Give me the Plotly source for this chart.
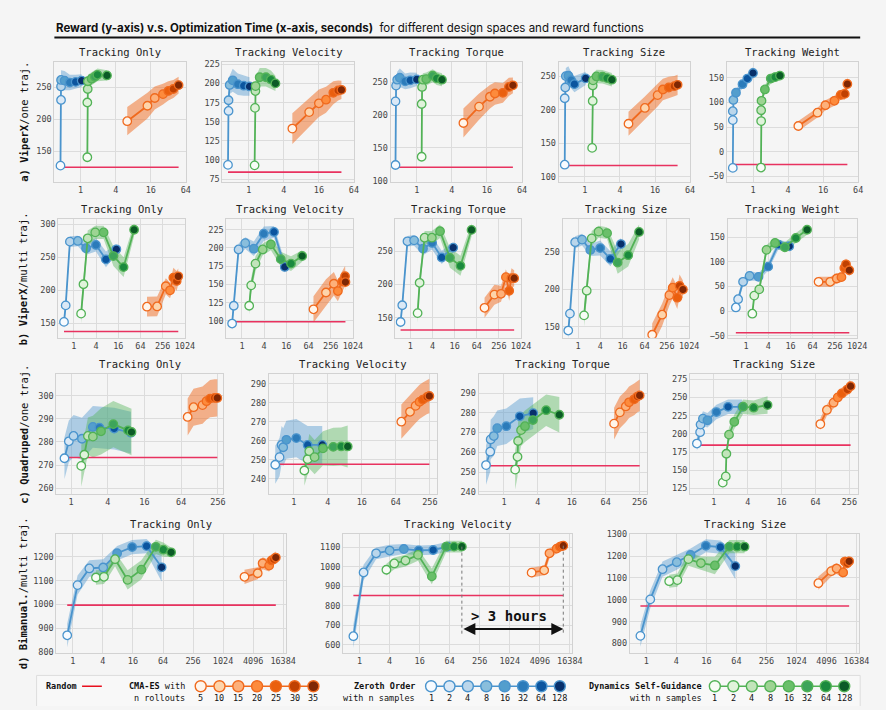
import math
import plotly.graph_objects as go

W, H = 886, 710
BG = "#f5f5f5"
MONO = "DejaVu Sans Mono"
LOG2 = math.log10(2)

# ---------------- data ----------------
ROW_LABELS = [("a) ViperX", "/one traj."), ("b) ViperX", "/multi traj."),
              ("c) Quadruped", "/one traj."), ("d) Bimanual.", "/multi traj.")]
TITLES = [
    ["Tracking Only", "Tracking Velocity", "Tracking Torque", "Tracking Size", "Tracking Weight"],
    ["Tracking Only", "Tracking Velocity", "Tracking Torque", "Tracking Size", "Tracking Weight"],
    ["Tracking Only", "Tracking Velocity", "Tracking Torque", "Tracking Size"],
    ["Tracking Only", "Tracking Velocity", "Tracking Size"],
]
XTICKS = [[1, 4, 16, 64], [1, 4, 16, 64, 256, 1024], [1, 4, 16, 64, 256],
          [1, 4, 16, 64, 256, 1024, 4096, 16384]]
YTICKS = [
    [[150, 200, 250], [75, 100, 125, 150, 175, 200, 225], [100, 150, 200, 250],
     [100, 150, 200, 250], [-50, 0, 50, 100, 150]],
    [[150, 200, 250, 300], [100, 125, 150, 175, 200, 225], [150, 200, 250],
     [150, 200, 250], [-50, 0, 50, 100, 150]],
    [[260, 270, 280, 290, 300], [240, 250, 260, 270, 280, 290], [240, 250, 260, 270, 280, 290],
     [125, 150, 175, 200, 225, 250, 275]],
    [[800, 900, 1000, 1100, 1200], [600, 700, 800, 900, 1000, 1100],
     [800, 900, 1000, 1100, 1200, 1300]],
]

# random baseline reward per panel
RANDOM = [[125.5, 84.1, 120.5, 116.7, -26], [137.5, 99, 131.7, 125.2, -44],
          [273.3, 247.7, 253.2, 184.5], [997, 852.5, 971.4]]

# Zeroth Order (n samples 1..128): time (s), reward, band half-width
A_ZO_X = [[0.45, 0.46, 0.46, 0.46, 0.53, 0.65, 0.82, 1.04],
          [0.44, 0.45, 0.45, 0.47, 0.53, 0.65, 0.82, 1.03],
          [0.43, 0.43, 0.44, 0.46, 0.51, 0.63, 0.77, 1.0],
          [0.45, 0.45, 0.46, 0.47, 0.52, 0.58, 0.66, 1.03],
          [0.45, 0.45, 0.45, 0.46, 0.51, 0.66, 0.8, 1.0]]
A_ZO_Y = [[128, 230, 251, 261, 260, 257, 258, 260],
          [93.6, 164, 178, 198, 204, 199, 197, 196],
          [124, 221, 245, 254, 257, 251.5, 253, 254.5],
          [118, 217, 233, 250, 250.5, 244, 238, 246.6],
          [-32.7, 64, 82, 104.7, 119.3, 136.7, 148, 159.3]]
A_ZO_E = [[15, 10, 10, 15, 15, 12, 11, 10], [8, 10, 10, 12, 15, 14, 13, 12],
          [10, 10, 10, 12, 14, 12, 12, 10], [15, 10, 10, 12, 14, 12, 12, 10],
          [15, 8, 8, 8, 8, 9, 10, 12]]
B_ZO_X = [[0.54, 0.6, 0.78, 1.28, 2.14, 3.97, 7.4, 14.2],
          [0.54, 0.6, 0.81, 1.23, 2.1, 3.9, 7.4, 14.5],
          [0.54, 0.6, 0.83, 1.26, 2.2, 3.9, 7.1, 14.6],
          [0.54, 0.6, 0.83, 1.28, 2.14, 3.97, 7.5, 14.5],
          [0.53, 0.61, 0.83, 1.25, 2.18, 3.97, 7.5, 14.8]]
B_ZO_Y = [[152, 177, 273.6, 274.6, 263.6, 268.6, 246.7, 262],
          [96.4, 120.8, 198, 206.7, 199, 219.6, 222, 174],
          [143.6, 168.8, 264.9, 266.3, 254, 262.4, 240.6, 255.4],
          [144.6, 167.3, 262.9, 266.3, 252.5, 255, 240.6, 260.4],
          [7.3, 24, 59.3, 71.3, 69.3, 90, 134.7, 131.3]]
B_ZO_E = [[10, 8, 8, 8, 10, 10, 12, 8], [10, 8, 8, 8, 10, 10, 8, 8],
          [10, 8, 8, 8, 10, 10, 10, 8], [12, 8, 8, 8, 8, 10, 10, 8],
          [8, 8, 8, 10, 8, 8, 10, 8]]
C_ZO_X = [[0.78, 0.92, 1.1, 1.51, 2.28, 2.92, 5.1, 9.6],
          [0.47, 0.56, 0.61, 0.65, 0.74, 1.11, 1.76, 3.19],
          [0.48, 0.57, 0.58, 0.66, 0.76, 1.1, 1.91, 3.3],
          [0.5, 0.57, 0.58, 0.64, 0.77, 1.11, 1.79, 3.19]]
C_ZO_Y = [[273, 280.3, 282.6, 281.4, 286.5, 286.2, 285.8, 284],
          [247.4, 251.4, 257.8, 256.6, 260.5, 261.4, 257.8, 257.8],
          [253.5, 260.3, 266.5, 268.2, 272.2, 273.2, 278.2, 279.8],
          [186.7, 202.3, 212.7, 220.9, 218.6, 229.9, 237.1, 237.1]]
C_ZO_E = [[9, 9, 9, 9, 9, 9, 9, 9], [10, 10, 10, 10, 10, 10, 10, 10],
          [10, 10, 10, 10, 9, 9, 9, 8], [10, 10, 10, 10, 10, 10, 10, 10]]
D_ZO_X = [[0.77, 1.24, 2.14, 4.05, 7.7, 15.4, 30, 60],
          [0.75, 1.2, 2.14, 4.0, 7.7, 15.3, 29.8, 59],
          [0.76, 1.2, 2.11, 4.08, 7.7, 15.6, 30.5, 60.7]]
D_ZO_Y = [[870, 1081, 1151, 1155, 1215, 1241, 1245, 1156],
          [644, 970, 1068, 1082, 1090, 1083, 1085, 1102],
          [835, 1002, 1140, 1172, 1205, 1247, 1241, 1154]]
D_ZO_E = [[50, 40, 35, 35, 30, 30, 30, 60], [60, 40, 30, 30, 25, 25, 25, 25],
          [50, 40, 35, 35, 30, 30, 30, 60]]

# Dynamics Self-Guidance (n samples 1..128)
A_DSG_X = [[1.3, 1.3, 1.32, 1.33, 1.54, 1.75, 1.94, 2.83],
           [1.26, 1.28, 1.3, 1.31, 1.54, 1.97, 2.4, 2.87],
           [1.21, 1.21, 1.23, 1.27, 1.45, 1.87, 2.2, 2.7],
           [1.33, 1.36, 1.36, 1.38, 1.58, 2.0, 2.4, 2.9],
           [1.37, 1.38, 1.38, 1.4, 1.6, 2.02, 2.4, 2.9]]
A_DSG_Y = [[141, 226, 247, 259, 263, 266, 269, 268],
           [93, 168, 190, 196.5, 208, 208, 205, 200],
           [136.6, 217, 243, 254, 255, 260, 256, 254],
           [143, 213, 236, 243.6, 249.5, 249, 247, 244.6],
           [-32, 62, 84, 103, 126, 148, 151, 154]]
A_DSG_E = [[8, 10, 10, 10, 10, 10, 10, 8], [6, 10, 10, 12, 12, 12, 12, 10],
           [12, 10, 10, 10, 10, 10, 10, 10], [15, 10, 10, 10, 10, 10, 10, 10],
           [15, 8, 8, 8, 8, 10, 10, 10]]
B_DSG_X = [[1.57, 1.82, 2.37, 3.8, 6.4, 11.8, 22.3, 43],
           [1.57, 1.78, 2.33, 3.65, 6.1, 11.3, 21.4, 43],
           [1.57, 1.78, 2.43, 3.83, 6.4, 11.9, 23, 46],
           [1.45, 1.71, 2.33, 3.58, 6.1, 11.8, 22.8, 45],
           [1.48, 1.67, 2.28, 3.58, 6.1, 11.3, 22.3, 45]]
B_DSG_Y = [[164.5, 209, 278.6, 287.6, 287.6, 251.7, 235, 291.6],
           [120.8, 148.8, 178.6, 198, 205, 184.7, 178.6, 189],
           [157, 202.5, 270.3, 270.3, 280, 240, 228, 282],
           [164.9, 198, 268, 277, 275, 235.6, 245.5, 276.6],
           [-5.3, 31.3, 44, 124, 138, 129.3, 148, 164.7]]
B_DSG_E = [[15, 12, 12, 10, 10, 15, 15, 10], [12, 10, 10, 8, 8, 10, 10, 8],
           [15, 12, 10, 10, 10, 15, 15, 10], [15, 12, 10, 8, 8, 15, 15, 10],
           [10, 10, 10, 10, 10, 10, 10, 10]]
C_DSG_X = [[1.47, 1.65, 1.89, 2.28, 3.1, 4.93, 8.6, 9.8],
           [1.54, 1.76, 1.88, 2.34, 3.28, 5.0, 6.9, 9.0],
           [1.58, 1.74, 1.78, 2.01, 2.36, 3.27, 5.6, 9.6],
           [1.44, 1.63, 1.67, 1.86, 2.31, 3.32, 5.1, 9.0]]
C_DSG_Y = [[269.7, 274.5, 282.6, 282.3, 284.6, 287.7, 285, 284.3],
           [244.4, 250.3, 254.5, 251.4, 256, 256.8, 257, 257],
           [251.2, 257.7, 265.7, 271.2, 273.2, 276.3, 281.3, 279],
           [133, 141.6, 172.7, 198.9, 216.5, 237.3, 235.9, 239.5]]
C_DSG_E = [[9, 8, 8, 9, 10, 10, 10, 10], [8, 8, 9, 9, 9, 10, 10, 11],
           [10, 10, 10, 8, 8, 8, 8, 9], [8, 8, 8, 10, 10, 10, 10, 12]]
D_DSG_X = [[2.9, 4.2, 7.0, 12.5, 23.6, 46, 65, 93],
           [3.44, 4.95, 8.3, 14.8, 28, 54, 78, 112],
           [2.87, 4.2, 6.96, 12.4, 23.6, 46, 66, 93]]
D_DSG_Y = [[1113, 1116, 1190, 1103, 1146, 1242, 1230, 1219],
           [984, 1016, 1031, 1060, 950, 1102, 1102, 1102],
           [1085, 1090, 1186, 1168, 1157, 1243, 1243, 1243]]
D_DSG_E = [[30, 30, 30, 40, 40, 30, 30, 20], [30, 30, 30, 30, 40, 30, 30, 30],
           [30, 30, 30, 30, 40, 30, 30, 30]]

# CMA-ES (n rollouts 5..35)
A_CMA_X = [[6.3, 14, 18.7, 25.9, 32, 39, 48], [5.6, 10.9, 16, 21.2, 28.3, 34.3, 39],
           [6.3, 11.7, 18, 21.9, 30, 38, 44.6], [5.6, 10.7, 17.7, 21.8, 27.5, 34.3, 39],
           [6.0, 12.8, 17.5, 25, 32, 37.7, 41.7]]
A_CMA_Y = [[197, 221, 233, 239, 244, 247, 253], [141, 162.5, 174, 178.7, 187.7, 190.7, 191.6],
           [188, 213, 228, 233, 234, 243, 245.5], [179, 202.5, 221.6, 230, 233, 235, 237],
           [52, 79, 94, 103, 115, 117, 137]]
A_CMA_E = [[22, 20, 18, 16, 15, 14, 13], [20, 19, 18, 17, 15, 13, 12],
           [22, 20, 18, 17, 15, 14, 12], [18, 17, 17, 16, 16, 15, 15],
           [10, 10, 10, 10, 10, 12, 14]]
B_CMA_X = [[96, 181, 311, 405, 498, 613, 677], [87, 190, 311, 399, 520, 626, 640],
           [104, 193, 292, 397, 487, 561, 665], [102, 190, 298, 367, 488, 564, 694],
           [92, 190, 286, 383, 459, 509, 625]]
B_CMA_Y = [[175, 175.4, 206, 199.8, 219, 214, 221], [116, 139, 151, 141, 154, 161.4, 153.3],
           [165, 184.7, 186, 211, 190.6, 209.4, 209.4], [139, 165.8, 192, 202, 188.6, 204.5, 199.5],
           [59.3, 59.3, 66, 68.7, 87.3, 94.7, 82.7]]
B_CMA_E = [[15, 15, 12, 12, 15, 15, 12], [18, 18, 16, 14, 14, 14, 12],
           [15, 15, 12, 12, 15, 15, 12], [15, 15, 14, 14, 15, 15, 12],
           [10, 10, 10, 10, 12, 12, 12]]
C_CMA_X = [[81.6, 102, 143, 166, 190, 226, 250], [80, 114, 143, 168, 192, 229, 251],
           [90, 114, 145, 166, 204, 233, 256], [78, 102, 134, 159, 187, 235, 269]]
C_CMA_Y = [[290.8, 295, 295.9, 297.6, 298.7, 299, 299],
           [270, 275.2, 278.3, 280.4, 281.6, 283, 283.5],
           [274.5, 280.2, 283.2, 285.3, 286.8, 288.2, 288.8],
           [213.4, 232.8, 242.8, 250, 255.4, 260.8, 265.4]]
C_CMA_E = [[8, 8, 8, 8, 8, 8, 8], [9, 9, 9, 9, 9, 9, 9], [8, 8, 8, 8, 8, 8, 8],
           [8, 8, 8, 8, 8, 8, 8]]
D_CMA_X = [[2750, 5060, 6340, 8580, 9550, 10650, 11660],
           [2800, 5000, 6380, 8900, 10370, 11350, 12070],
           [2800, 5080, 6500, 8800, 9500, 10600, 11600]]
D_CMA_Y = [[1116, 1131, 1173, 1163, 1185, 1190, 1197],
           [969, 981, 1068, 1092, 1102, 1105, 1107],
           [1076, 1131, 1143, 1125, 1175, 1167, 1176]]
D_CMA_E = [[30, 25, 25, 25, 25, 25, 25], [25, 25, 25, 25, 25, 25, 25],
           [30, 25, 25, 25, 25, 25, 25]]

ZO_N = [1, 2, 4, 8, 16, 32, 64, 128]
DSG_N = [1, 2, 4, 8, 16, 32, 64, 128]
CMA_N = [5, 10, 15, 20, 25, 30, 35]

ZO = (A_ZO_X, B_ZO_X, C_ZO_X, D_ZO_X), (A_ZO_Y, B_ZO_Y, C_ZO_Y, D_ZO_Y), (A_ZO_E, B_ZO_E, C_ZO_E, D_ZO_E)
DSG = (A_DSG_X, B_DSG_X, C_DSG_X, D_DSG_X), (A_DSG_Y, B_DSG_Y, C_DSG_Y, D_DSG_Y), (A_DSG_E, B_DSG_E, C_DSG_E, D_DSG_E)
CMA = (A_CMA_X, B_CMA_X, C_CMA_X, D_CMA_X), (A_CMA_Y, B_CMA_Y, C_CMA_Y, D_CMA_Y), (A_CMA_E, B_CMA_E, C_CMA_E, D_CMA_E)

# ---------------- styling / geometry (pixels) ----------------
BLUES = ["#f7fbff", "#dbe9f6", "#bad6eb", "#89bedc", "#539ecd", "#2b7bba", "#0b559f", "#08306b"]
GREENS = ["#f7fcf5", "#e0f3db", "#c2e4bb", "#9dd493", "#6abf6a", "#3da45a", "#1b8a3e", "#0b5b26"]
ORANGES = ["#fff5eb", "#fdd4ab", "#fdb07a", "#fd8b3c", "#ea5f0e", "#c04102", "#7f2704"]
BLUE, GREEN, ORANGE, RED = "#4a94cd", "#52b256", "#f06a1e", "#e8325f"
BLUE_F, GREEN_F, ORANGE_F = "rgba(74,148,205,0.42)", "rgba(82,178,86,0.42)", "rgba(240,106,30,0.5)"

ROW_Y = [(58, 179), (217, 337), (374, 495), (536, 656)]
ROW_X = [
    [(55, 188), (225, 358), (395, 528), (565, 698), (735, 868)],
    [(59, 187), (229, 357), (400, 527), (569, 697), (736, 867)],
    [(57, 226), (272, 442), (484, 654), (698, 868)],
    [(57, 289), (347, 579), (637, 869)],
]
XR = [
    [(-1.5, 6.0)] * 5,
    [(-1.4, 10.0), (-1.4, 10.0), (-1.35, 10.0), (-1.4, 10.0), (-1.65, 10.0)],
    [(-0.8, 8.3), (-1.46, 8.42), (-1.5, 8.41), (-1.4, 8.52)],
    [(-1.1, 14.17)] * 3,
]
YR = [
    [(103, 288.5), (71.6, 227.6), (98.5, 280.6), (92.6, 270.6), (-60.7, 181)],
    [(128, 307.5), (77, 239.4), (120, 298), (135, 293.6), (-54, 186)],
    [(257.7, 309.2), (232.2, 294.9), (239, 299.5), (117.8, 281.8)],
    [(797, 1295), (559.6, 1165.7), (758, 1300)],
]

fig = go.Figure()
layout = {}
annotations = []
shapes = []


def band(x, y, e, color, ax):
    up = [a + b for a, b in zip(y, e)]
    lo = [a - b for a, b in zip(y, e)]
    return go.Scatter(x=list(x) + list(x)[::-1], y=up + lo[::-1], fill="toself",
                      fillcolor=color, line=dict(width=0), mode="lines",
                      hoverinfo="skip", showlegend=False, xaxis="x" + ax, yaxis="y" + ax)


def series(x, y, line, fills, ax):
    return go.Scatter(x=x, y=y, mode="lines+markers", showlegend=False,
                      line=dict(color=line, width=1.8),
                      marker=dict(size=8.5, color=fills, line=dict(color=line, width=1.3)),
                      xaxis="x" + ax, yaxis="y" + ax)


k = 0
for r in range(4):
    y0, y1 = ROW_Y[r]
    for c in range(len(ROW_X[r])):
        k += 1
        s = "" if k == 1 else str(k)
        x0, x1 = ROW_X[r][c]
        lo, hi = XR[r][c]
        layout["xaxis" + s] = dict(
            domain=[x0 / W, x1 / W], anchor="y" + s, type="log",
            range=[lo * LOG2, hi * LOG2], tickvals=XTICKS[r],
            ticktext=[str(v) for v in XTICKS[r]], showgrid=True, gridcolor="#dcdcdc",
            showline=True, linecolor="#d2d2d2", mirror=True, zeroline=False, ticks="",
            tickfont=dict(family=MONO, size=8.5, color="#444"))
        layout["yaxis" + s] = dict(
            domain=[1 - y1 / H, 1 - y0 / H], anchor="x" + s, range=list(YR[r][c]),
            tickvals=YTICKS[r][c], showgrid=True, gridcolor="#dcdcdc",
            showline=True, linecolor="#d2d2d2", mirror=True, zeroline=False, ticks="",
            tickfont=dict(family=MONO, size=8.5, color="#444"))
        annotations.append(dict(text=TITLES[r][c], x=(x0 + x1) / 2 / W, y=1 - (y0 - 10) / H,
                                xref="paper", yref="paper", showarrow=False,
                                xanchor="center", yanchor="middle",
                                font=dict(family=MONO, size=10.5, color="#222")))

        zx, zy, ze = ZO[0][r][c], ZO[1][r][c], ZO[2][r][c]
        gx, gy, ge = DSG[0][r][c], DSG[1][r][c], DSG[2][r][c]
        ox, oy, oe = CMA[0][r][c], CMA[1][r][c], CMA[2][r][c]
        fig.add_trace(band(zx, zy, ze, BLUE_F, s))
        fig.add_trace(band(gx, gy, ge, GREEN_F, s))
        fig.add_trace(band(ox, oy, oe, ORANGE_F, s))
        fig.add_trace(go.Scatter(x=[zx[0], ox[-1]], y=[RANDOM[r][c]] * 2, mode="lines",
                                 line=dict(color=RED, width=1.6), showlegend=False,
                                 xaxis="x" + s, yaxis="y" + s))
        fig.add_trace(series(zx, zy, BLUE, BLUES, s))
        fig.add_trace(series(gx, gy, GREEN, GREENS, s))
        fig.add_trace(series(ox, oy, ORANGE, ORANGES, s))

        if r == 3 and c == 1:
            # "> 3 hours" gap between last DSG and last CMA-ES point
            ybot = 655
            for xv, yv in [(gx[-1], gy[-1]), (ox[-1], oy[-1])]:
                fig.add_trace(go.Scatter(x=[xv, xv], y=[yv, ybot], mode="lines",
                                         line=dict(color="#777", width=1, dash="dot"),
                                         showlegend=False, xaxis="x" + s, yaxis="y" + s))
            annotations.append(dict(x=math.log10(ox[-1]), y=681, ax=math.log10(gx[-1]), ay=681,
                                    xref="x" + s, yref="y" + s, axref="x" + s, ayref="y" + s,
                                    text="", showarrow=True, arrowside="end+start",
                                    arrowhead=2, arrowsize=1.2, arrowwidth=2, arrowcolor="#111"))
            annotations.append(dict(x=math.log10(1000), y=748, xref="x" + s, yref="y" + s,
                                    text="<b>&gt; 3 hours</b>", showarrow=False,
                                    font=dict(family=MONO, size=14, color="#111")))

    # row label
    bold, rest = ROW_LABELS[r]
    annotations.append(dict(text=f"<b>{bold}</b>{rest}", x=24 / W, y=1 - (y0 + y1) / 2 / H,
                            xref="paper", yref="paper", showarrow=False, textangle=-90,
                            xanchor="center", yanchor="middle",
                            font=dict(family=MONO, size=10.5, color="#111")))

# ---------------- title ----------------
annotations.append(dict(
    text="<b>Reward (y-axis) v.s. Optimization Time (x-axis, seconds)</b>  for different design spaces and reward functions",
    x=55 / W, y=1 - 23 / H, xref="paper", yref="paper", xanchor="left", yanchor="middle",
    showarrow=False, font=dict(family="Inter", size=11.5, color="#111")))
shapes.append(dict(type="line", xref="paper", yref="paper", x0=55 / W, x1=870 / W,
                   y0=1 - 33 / H, y1=1 - 33 / H, line=dict(color="#111", width=2)))

# ---------------- custom legend (pixel axis restricted to the legend strip) ----------------
LA = str(k + 1)
LTOP = 674
layout["xaxis" + LA] = dict(domain=[0, 1], range=[0, W], visible=False, anchor="y" + LA, fixedrange=True)
layout["yaxis" + LA] = dict(domain=[0, 1 - LTOP / H], range=[H, LTOP], visible=False,
                            anchor="x" + LA, fixedrange=True)
shapes.append(dict(type="rect", xref="x" + LA, yref="y" + LA, x0=37, x1=870, y0=679, y1=712,
                   line=dict(color="#dddddd", width=1), fillcolor="#f8f8f8", layer="below"))
LY, LY2 = 690, 702
lfont = dict(family=MONO, size=8.5, color="#111")
annotations.append(dict(text="<b>Random</b>", x=45, y=LY, xref="x" + LA, yref="y" + LA,
                        xanchor="left", yanchor="middle", showarrow=False, font=lfont))
fig.add_trace(go.Scatter(x=[83, 103], y=[LY, LY], mode="lines", line=dict(color="#e8101e", width=1.5),
                         showlegend=False, xaxis="x" + LA, yaxis="y" + LA, hoverinfo="skip"))

for name, sub, xr, start, step, labels, fills, line in [
        ("CMA-ES", "n rollouts", 189, 203, 19.0, CMA_N, ORANGES, ORANGE),
        ("Zeroth Order", "with n samples", 422, 436, 18.6, ZO_N, BLUES, BLUE),
        ("Dynamics Self-Guidance", "with n samples", 712, 723, 18.7, DSG_N, GREENS, GREEN)]:
    head = f"<b>{name}</b> with" if name == "CMA-ES" else f"<b>{name}</b>"
    annotations.append(dict(text=head, x=xr, y=LY, xref="x" + LA, yref="y" + LA,
                            xanchor="right", yanchor="middle", showarrow=False, font=lfont))
    annotations.append(dict(text=sub, x=xr, y=LY2, xref="x" + LA, yref="y" + LA,
                            xanchor="right", yanchor="middle", showarrow=False, font=lfont))
    xs = [start + i * step for i in range(len(labels))]
    fig.add_trace(go.Scatter(x=xs, y=[LY] * len(xs), mode="lines+markers", showlegend=False,
                             line=dict(color=line, width=1.5),
                             marker=dict(size=11, color=fills, line=dict(color=line, width=1.4)),
                             xaxis="x" + LA, yaxis="y" + LA, hoverinfo="skip"))
    for xv, lab in zip(xs, labels):
        annotations.append(dict(text=str(lab), x=xv, y=LY2, xref="x" + LA, yref="y" + LA,
                                xanchor="center", yanchor="middle", showarrow=False, font=lfont))

fig.update_layout(width=W, height=H, margin=dict(l=0, r=0, t=0, b=0),
                  paper_bgcolor=BG, plot_bgcolor=BG, showlegend=False,
                  annotations=annotations, shapes=shapes, **layout)
fig.write_html("out.html", config={"displayModeBar": False},
               post_script="document.body.style.margin='0';")
